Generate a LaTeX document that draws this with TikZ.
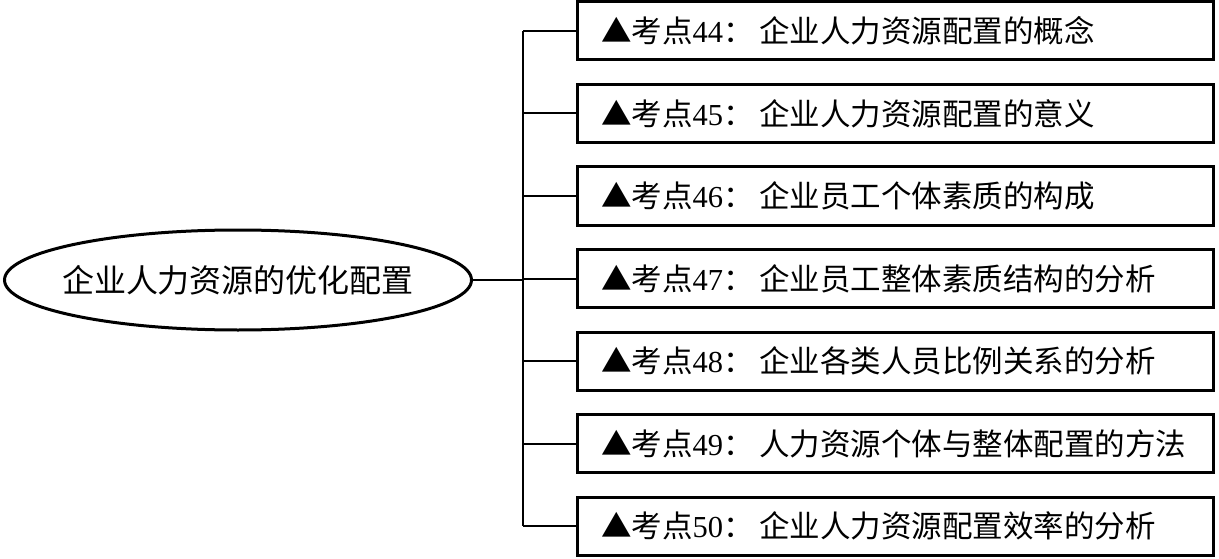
\documentclass[tikz,border=0pt]{standalone}
\usepackage{fontspec}
\setmainfont{Liberation Serif}
\newfontfamily\cjk{Noto Sans CJK SC}
\usetikzlibrary{shapes.geometric}

\tikzset{
  kdbox/.style={draw,line width=3pt,minimum width=636pt,minimum height=58pt,
    text width=588pt,inner xsep=24pt,align=left,font=\fontsize{30.5}{36}\selectfont},
  link/.style={line width=2pt}
}
\newcommand{\kd}[2]{{\cjk ▲考点}#1{\cjk ：\hspace{6pt}#2}}

\begin{document}
\begin{tikzpicture}[x=1pt,y=-1pt]
    \useasboundingbox (0,0) rectangle (1219,559);
    \node[ellipse,draw,line width=3pt,minimum width=467pt,minimum height=100pt,inner sep=0pt] (root) at (238,280) {};
    \node[font=\cjk\fontsize{32}{38}\selectfont] (rootlabel) at (root.center) {企业人力资源的优化配置};
    \coordinate (sp) at (523,0);
    \foreach \n/\t [count=\i from 0] in {44/企业人力资源配置的概念,45/企业人力资源配置的意义,
        46/企业员工个体素质的构成,47/企业员工整体素质结构的分析,48/企业各类人员比例关系的分析,
        49/人力资源个体与整体配置的方法,50/企业人力资源配置效率的分析}{
        \node[kdbox] (k\n) at (895,31+82.5*\i) {\kd{\n}{\t}};
        \draw[link] (k\n.west) -- (k\n.west -| sp);
    }
    \draw[link] (k44.west -| sp) -- (k50.west -| sp);
    \draw[link] (root.east) -- (root.east -| sp);
\end{tikzpicture}
\end{document}
